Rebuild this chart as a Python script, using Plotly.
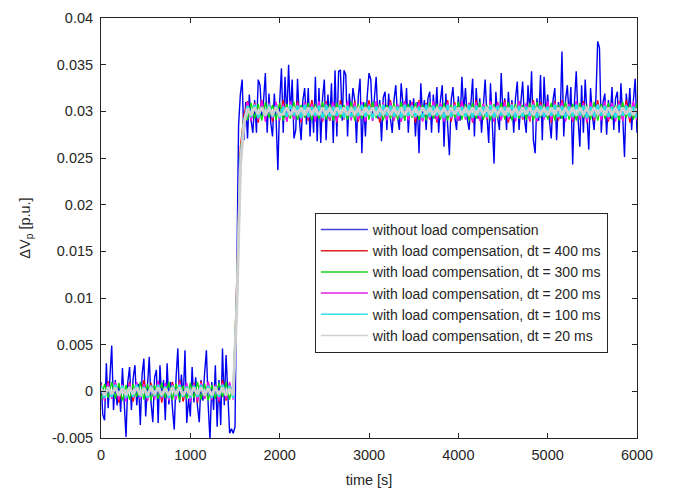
import numpy as np
import plotly.graph_objects as go

# time grids [s]
t_fast = list(range(0, 6001, 20))   # blue series
t_slow = list(range(0, 6001, 40))   # compensated series

# values, in units of 1e-4 p.u.
blue_e4 = [
    10, -25, -31, 30, -18, 15, 49, -20, 12, -15,
    8, -22, 25, -12, -49, 10, 26, -20, 14, 28,
    -15, 8, -36, 18, 35, -27, 12, 37, -12, -33,
    15, 23, -34, 28, -10, 12, -31, 30, -14, 10,
    -18, -41, 14, 46, -12, 18, -10, 44, -34, -8,
    -27, 26, -12, 15, -16, -33, 12, -10, 20, 44,
    -15, -52, 10, -20, 28, -38, 12, -36, 46, -15,
    39, -12, -45, -40, -45, -38,
] + [
    150, 285, 318, 334, 269, 310, 271, 318, 290, 277,
    312, 277, 334, 328, 295, 312, 341, 277, 319, 288,
    273, 319, 292, 237, 310, 346, 277, 337, 292, 350,
    296, 334, 271, 280, 335, 292, 269, 312, 325, 286,
    325, 273, 312, 277, 337, 268, 325, 266, 314, 334,
    269, 318, 290, 330, 266, 344, 273, 343, 344, 290,
    344, 339, 273, 319, 295, 325, 312, 266, 316, 335,
    255, 310, 273, 316, 341, 334, 290, 314, 337, 292,
    312, 268, 315, 321, 280, 319, 292, 277, 312, 328,
    294, 280, 330, 308, 290, 325, 277, 312, 295, 314,
    273, 310, 255, 330, 294, 312, 280, 314, 321, 277,
    318, 292, 326, 277, 312, 328, 262, 319, 290, 253,
    312, 326, 294, 280, 316, 290, 337, 300, 325, 292,
    280, 312, 335, 273, 325, 292, 314, 277, 312, 334,
    296, 266, 330, 292, 244, 321, 294, 280, 341, 296,
    314, 280, 321, 292, 312, 277, 314, 332, 280, 310,
    332, 292, 277, 328, 298, 343, 269, 255, 314, 290,
    339, 269, 337, 294, 318, 290, 271, 312, 325, 269,
    310, 292, 364, 273, 312, 328, 294, 326, 243, 310,
    343, 292, 262, 328, 277, 334, 292, 259, 325, 296,
    280, 314, 375, 368, 277, 310, 319, 275, 312, 292,
    326, 280, 314, 321, 277, 330, 294, 251, 319, 296,
    325, 280, 312, 335, 277,
]

red_e4 = [
    8, -10, 11, -7, 9, -12, 6, -9, 10, -11,
    7, -8, 12, -10, 9, -6, 11, -12, 8, -9,
    10, -7, 12, -11, 6, -10, 9, -12, 11, -8,
    10, -9, 7, -11, 12, -10, 8, -6,
] + [120, 262, 296] + [
    311, 290, 309, 288, 312, 293, 308, 289, 310, 291,
    312, 289, 307, 292, 311, 288, 309, 290, 312, 293,
    308, 289, 311, 290, 310, 288, 312, 291, 309, 292,
    311, 289, 308, 290, 312, 293, 310, 288, 309, 291,
    312, 290, 307, 289, 311, 292, 310, 288, 312, 290,
    309, 291, 311, 288, 308, 292, 312, 289, 310, 290,
    311, 293, 309, 288, 312, 290, 308, 291, 311, 289,
    310, 292, 312, 288, 309, 290, 311, 291, 308, 289,
    312, 290, 310, 293, 309, 288, 311, 290, 312, 291,
    308, 289, 310, 292, 311, 288, 309, 290, 312, 291,
    310, 289, 308, 292, 311, 290, 312, 288, 309, 291,
]

green_e4 = [
    -9, 8, -7, 10, -8, 9, -10, 7, -9, 8,
    -6, 10, -9, 8, -10, 7, -8, 9, -7, 10,
    -9, 8, -10, 6, -8, 9, -7, 10, -9, 8,
    -10, 7, -8, 9, -6, 10, -9, 8,
] + [110, 255, 293] + [
    291, 309, 292, 308, 290, 310, 293, 307, 291, 309,
    290, 308, 292, 310, 291, 307, 293, 309, 290, 308,
    292, 310, 291, 308, 290, 309, 293, 307, 291, 310,
    290, 308, 292, 309, 291, 310, 293, 308, 290, 307,
    292, 309, 291, 310, 290, 308, 293, 309, 291, 307,
    290, 310, 292, 308, 291, 309, 290, 307, 293, 310,
    291, 308, 290, 309, 292, 310, 291, 307, 290, 308,
    293, 309, 291, 310, 290, 308, 292, 307, 291, 309,
    290, 310, 293, 308, 291, 309, 290, 307, 292, 310,
    291, 308, 290, 309, 293, 307, 291, 310, 290, 308,
    292, 309, 291, 307, 290, 310, 293, 308, 291, 309,
]

magenta_e4 = [
    7, -10, 9, -8, 10, -9, 8, -11, 9, -7,
    10, -9, 8, -10, 7, -9, 11, -8, 9, -10,
    8, -9, 10, -7, 9, -11, 8, -10, 9, -8,
    10, -9, 7, -10, 9, -8, 10, -9,
] + [100, 250, 291] + [
    310, 290, 308, 291, 311, 289, 309, 292, 310, 290,
    308, 289, 311, 291, 309, 290, 310, 292, 308, 289,
    311, 290, 309, 291, 310, 289, 308, 292, 311, 290,
    309, 291, 310, 289, 308, 290, 311, 292, 309, 290,
    310, 291, 308, 289, 311, 290, 309, 292, 310, 289,
    308, 291, 311, 290, 309, 289, 310, 292, 308, 290,
    311, 291, 309, 289, 310, 290, 308, 292, 311, 289,
    309, 290, 310, 291, 308, 289, 311, 292, 309, 290,
    310, 289, 308, 291, 311, 290, 309, 292, 310, 289,
    308, 290, 311, 291, 309, 289, 310, 292, 308, 290,
    311, 291, 309, 289, 310, 290, 308, 292, 311, 290,
]

cyan_e4 = [
    6, -7, 5, -6, 7, -5, 6, -7, 5, -6,
    7, -6, 5, -7, 6, -5, 7, -6, 5, -7,
    6, -5, 7, -6, 5, -7, 6, -6, 7, -5,
    6, -7, 5, -6, 7, -5, 6, -7,
] + [95, 245, 289] + [
    306, 294, 307, 293, 305, 295, 307, 294, 306, 293,
    305, 294, 307, 295, 306, 293, 307, 294, 305, 295,
    306, 293, 307, 294, 305, 295, 307, 293, 306, 294,
    305, 295, 307, 294, 306, 293, 305, 294, 307, 295,
    306, 294, 305, 293, 307, 295, 306, 294, 305, 293,
    307, 294, 306, 295, 305, 293, 307, 294, 306, 295,
    305, 294, 307, 293, 306, 295, 305, 294, 307, 293,
    306, 295, 305, 294, 307, 293, 306, 294, 305, 295,
    307, 293, 306, 294, 305, 295, 307, 294, 306, 293,
    305, 294, 307, 295, 306, 293, 305, 294, 307, 295,
    306, 294, 305, 293, 307, 295, 306, 294, 305, 293,
]

gray_e4 = [
    3, -4, 4, -3, 4, -4, 3, -4, 4, -3,
    4, -4, 3, -4, 4, -3, 4, -4, 3, -4,
    4, -3, 4, -4, 3, -4, 4, -3, 4, -4,
    3, -4, 4, -3, 4, -4, 3, -4,
] + [90, 240, 286] + [
    303, 296, 304, 297, 304, 296, 303, 297, 304, 296,
    297, 304, 296, 303, 297, 304, 296, 304, 297, 303,
    296, 304, 297, 303, 296, 304, 297, 304, 296, 303,
    297, 303, 296, 304, 297, 304, 296, 303, 297, 304,
    296, 303, 297, 304, 296, 304, 297, 303, 296, 304,
    297, 304, 296, 303, 297, 303, 296, 304, 297, 304,
    296, 303, 297, 304, 296, 304, 297, 303, 296, 303,
    297, 304, 296, 304, 297, 303, 296, 304, 297, 304,
    296, 303, 297, 303, 296, 304, 297, 304, 296, 303,
    297, 304, 296, 304, 297, 303, 296, 304, 297, 303,
    296, 304, 297, 303, 296, 304, 297, 304, 296, 303,
]

names = [
    "without load compensation",
    "with load compensation, dt = 400 ms",
    "with load compensation, dt = 300 ms",
    "with load compensation, dt = 200 ms",
    "with load compensation, dt = 100 ms",
    "with load compensation, dt = 20 ms",
]

x_ticks = [0, 1000, 2000, 3000, 4000, 5000, 6000]
x_ticktext = ["0", "1000", "2000", "3000", "4000", "5000", "6000"]
y_ticks = [-0.005, 0, 0.005, 0.01, 0.015, 0.02, 0.025, 0.03, 0.035, 0.04]
y_ticktext = ["-0.005", "0", "0.005", "0.01", "0.015", "0.02", "0.025", "0.03", "0.035", "0.04"]

assert len(blue_e4) == len(t_fast), len(blue_e4)
for s in (red_e4, green_e4, magenta_e4, cyan_e4, gray_e4):
    assert len(s) == len(t_slow), len(s)

UNIT = 1e-4
colors = ["#0000f0", "#ff0000", "#00e000", "#ff00ff", "#20e4e4", "#cfcfcf"]
legend_colors = ["#4444dd", "#e02020", "#20d020", "#e020e0", "#30e0e0", "#d0d0d0"]
series = [
    (t_fast, blue_e4, 1.4),
    (t_slow, red_e4, 1.3),
    (t_slow, green_e4, 1.3),
    (t_slow, magenta_e4, 1.3),
    (t_slow, cyan_e4, 2.2),
    (t_slow, gray_e4, 3.0),
]

fig = go.Figure()
for (tt, vals, w), col, nm in zip(series, colors, names):
    fig.add_trace(go.Scatter(
        x=tt, y=np.array(vals) * UNIT, mode="lines", name=nm,
        line=dict(color=col, width=w), showlegend=False,
    ))
# legend entries with thin sample lines (as in the original legend)
for col, nm in zip(legend_colors, names):
    fig.add_trace(go.Scatter(
        x=[None], y=[None], mode="lines", name=nm,
        line=dict(color=col, width=1.5), showlegend=True,
    ))

FS = 14
axis_common = dict(
    showline=True, linecolor="#262626", linewidth=1, mirror="ticks",
    ticks="inside", ticklen=5, tickcolor="#262626", showgrid=False,
    zeroline=False, tickfont=dict(size=14.5, color="#262626"),
    ticklabelstandoff=4,
)
fig.update_xaxes(range=[0, 6000], tickvals=x_ticks, ticktext=x_ticktext,
                 title=dict(text="time [s]", font=dict(size=14.5, color="#262626"), standoff=12),
                 **axis_common)
fig.update_yaxes(range=[-0.005, 0.04], tickvals=y_ticks, ticktext=y_ticktext,
                 title=dict(text="ΔV<sub>p</sub> [p.u.]", font=dict(size=14.5, color="#262626"), standoff=17),
                 **axis_common)

fig.update_layout(
    width=675, height=493,
    margin=dict(l=101, r=38, t=18, b=55, autoexpand=False),
    paper_bgcolor="white", plot_bgcolor="white",
    font=dict(family="Liberation Sans, Arial, sans-serif", color="#262626"),
    legend=dict(
        x=0.399, y=0.536, xanchor="left", yanchor="top",
        bgcolor="white", bordercolor="#262626", borderwidth=1,
        font=dict(size=FS, color="#262626"),
        itemwidth=47, tracegroupgap=0,
    ),
    showlegend=True,
)

fig.write_html("out.html")
